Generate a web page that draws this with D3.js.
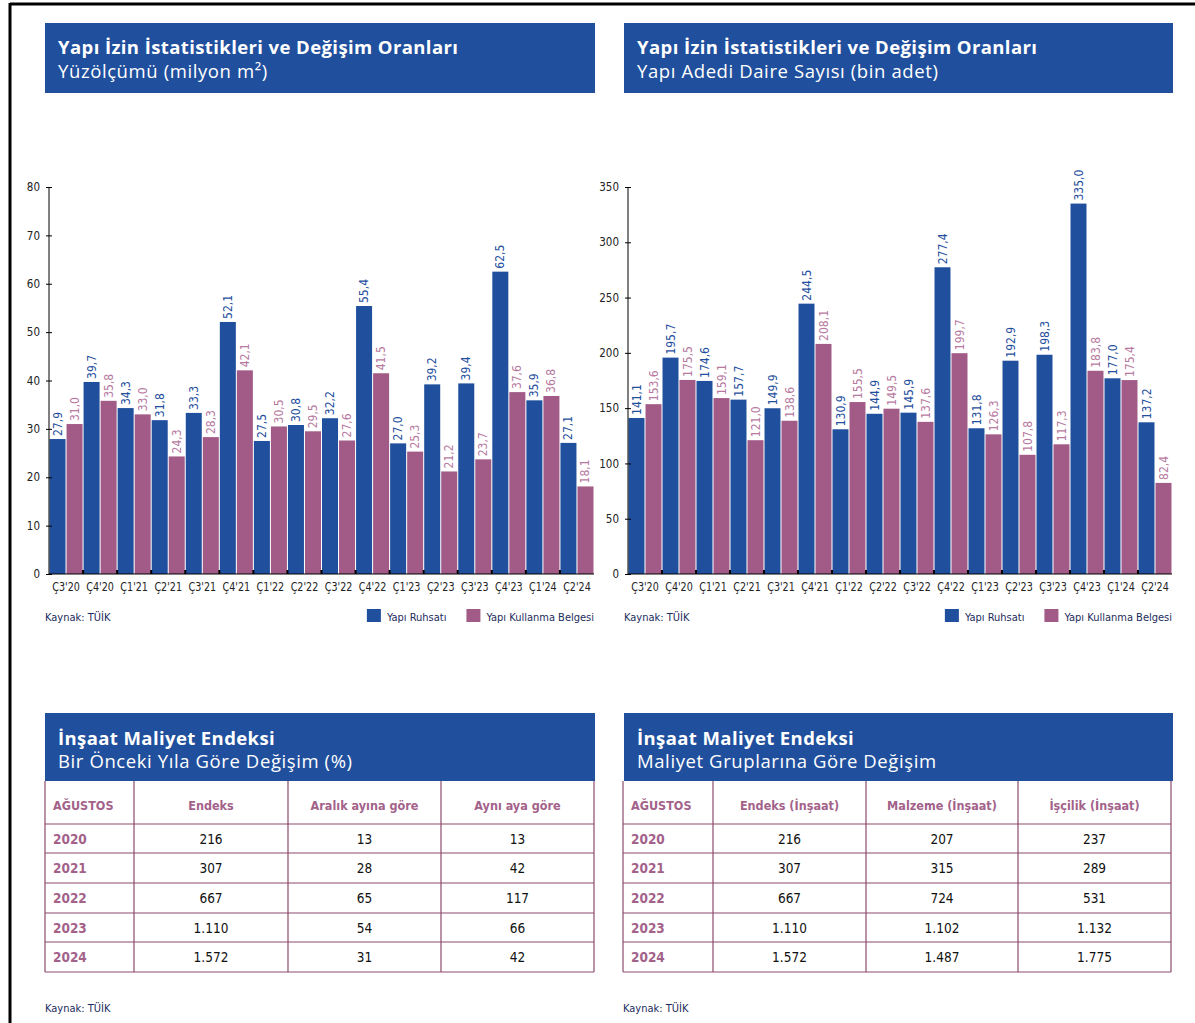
<!DOCTYPE html>
<html>
<head>
<meta charset="utf-8">
<script src="https://cdn.jsdelivr.net/npm/d3@7"></script>
<style>
  body { margin: 0; background: #fff; }
  svg { display: block; }
</style>
</head>
<body>
<svg id="page" width="1195" height="1023"></svg>
<script>
// quarters
var quarters = ["Ç3'20", "Ç4'20", "Ç1'21", "Ç2'21", "Ç3'21", "Ç4'21", "Ç1'22", "Ç2'22",
  "Ç3'22", "Ç4'22", "Ç1'23", "Ç2'23", "Ç3'23", "Ç4'23", "Ç1'24", "Ç2'24"];
var seriesNames = ["Yapı Ruhsatı", "Yapı Kullanma Belgesi"];

// Yüzölçümü (milyon m2)
var areaRuhsat = [27.9, 39.7, 34.3, 31.8, 33.3, 52.1, 27.5, 30.8, 32.2, 55.4, 27.0, 39.2, 39.4, 62.5, 35.9, 27.1];
var areaKullanma = [31.0, 35.8, 33.0, 24.3, 28.3, 42.1, 30.5, 29.5, 27.6, 41.5, 25.3, 21.2, 23.7, 37.6, 36.8, 18.1];
var areaTicks = [0, 10, 20, 30, 40, 50, 60, 70, 80];

// Daire sayısı (bin adet)
var flatRuhsat = [141.1, 195.7, 174.6, 157.7, 149.9, 244.5, 130.9, 144.9, 145.9, 277.4, 131.8, 192.9, 198.3, 335.0, 177.0, 137.2];
var flatKullanma = [153.6, 175.5, 159.1, 121.0, 138.6, 208.1, 155.5, 149.5, 137.6, 199.7, 126.3, 107.8, 117.3, 183.8, 175.4, 82.4];
var flatTicks = [0, 50, 100, 150, 200, 250, 300, 350];

// tables
var tableYears = ["2020", "2021", "2022", "2023", "2024"];
var changeCols = ["AĞUSTOS", "Endeks", "Aralık ayına göre", "Aynı aya göre"];
var changeEndeks = ["216", "307", "667", "1.110", "1.572"];
var changeAralik = ["13", "28", "65", "54", "31"];
var changeAyni = ["13", "42", "117", "66", "42"];
var groupCols = ["AĞUSTOS", "Endeks (İnşaat)", "Malzeme (İnşaat)", "İşçilik (İnşaat)"];
var groupEndeks = ["216", "307", "667", "1.110", "1.572"];
var groupMalzeme = ["207", "315", "724", "1.102", "1.487"];
var groupIscilik = ["237", "289", "531", "1.132", "1.775"];

var BLUE = "#1f4f9d", PINK = "#a25b87", PINK_TXT = "#b77a9f", MAUVE = "#8c4a6c", NAVY = "#1c2c5c";
var narrow = "'Liberation Sans Narrow', 'DejaVu Sans Condensed', sans-serif";
var headFont = "'Open Sans', 'Noto Sans', sans-serif";

var svg = d3.select("#page");

// page frame (top + left)
svg.append("line").attr("x1", 10).attr("x2", 1195).attr("y1", 4).attr("y2", 4).attr("stroke", "#000").attr("stroke-width", 3);
svg.append("line").attr("x1", 10).attr("x2", 10).attr("y1", 3).attr("y2", 1023).attr("stroke", "#000").attr("stroke-width", 3);

function header(x, y, w, h, title, sub, tY, sY) {
  var g = svg.append("g").attr("transform", "translate(" + x + "," + y + ")");
  g.append("rect").attr("width", w).attr("height", h).attr("fill", BLUE);
  g.append("text").attr("x", 13).attr("y", tY).attr("fill", "#fff")
    .attr("font-family", headFont).attr("font-weight", 700).attr("font-size", 18.5)
    .attr("letter-spacing", 0.4).text(title);
  g.append("text").attr("x", 13).attr("y", sY).attr("fill", "#fff")
    .attr("font-family", headFont).attr("font-size", 18.5)
    .attr("letter-spacing", 0.6).text(sub);
}

function fmt(v) { return v.toFixed(1).replace(".", ","); }

function barChart(opt) {
  var x = d3.scaleBand().domain(quarters).range([opt.x0, opt.x1]).padding(0);
  var inner = d3.scaleBand().domain([0, 1]).range([0, x.bandwidth()]).paddingInner(0.06).paddingOuter(0.03);
  var y = d3.scaleLinear().domain([0, opt.max]).range([opt.yBottom, opt.yTop]);
  var g = svg.append("g");

  var rows = quarters.map(function (q, i) {
    return { q: q, vals: [opt.a[i], opt.b[i]] };
  });
  var grp = g.selectAll(".grp").data(rows).enter().append("g")
    .attr("transform", function (d) { return "translate(" + x(d.q) + ",0)"; });
  grp.selectAll("rect").data(function (d) { return d.vals; }).enter().append("rect")
    .attr("x", function (d, i) { return inner(i); })
    .attr("width", inner.bandwidth())
    .attr("y", function (d) { return y(d); })
    .attr("height", function (d) { return y(0) - y(d); })
    .attr("fill", function (d, i) { return i === 0 ? BLUE : PINK; });
  grp.selectAll("text").data(function (d) { return d.vals; }).enter().append("text")
    .attr("transform", function (d, i) {
      return "translate(" + (inner(i) + inner.bandwidth() / 2 + 4) + "," + (y(d) - 3) + ") rotate(-90)";
    })
    .attr("font-family", narrow).attr("font-size", 12)
    .attr("fill", function (d, i) { return i === 0 ? BLUE : PINK_TXT; })
    .text(fmt);

  // y axis
  var ya = g.append("g").attr("transform", "translate(" + opt.x0 + ",0)")
    .call(d3.axisLeft(y).tickValues(opt.ticks).tickSize(4).tickPadding(5));
  ya.selectAll(".tick line").attr("x2", 3).attr("x1", -3);
  ya.select(".domain").attr("d", "M0," + opt.yTop + "V" + opt.yBottom);
  ya.selectAll("text").attr("font-family", narrow).attr("font-size", 11.5).attr("fill", "#222");

  // x axis (labels squeezed horizontally like the condensed face of the original)
  var xa = g.append("g").attr("transform", "translate(0," + opt.yBottom + ")")
    .call(d3.axisBottom(x).tickSize(0).tickPadding(8));
  xa.select(".domain").attr("d", "M" + opt.x0 + ",0H" + opt.x1).attr("stroke", "#000");
  xa.selectAll("text").attr("font-family", narrow).attr("font-size", 13)
    .attr("transform", "scale(0.82,1)").attr("fill", "#222");
  g.selectAll(".sep").data(quarters.slice(1)).enter().append("line")
    .attr("x1", function (d) { return x(d); }).attr("x2", function (d) { return x(d); })
    .attr("y1", opt.yBottom - 4).attr("y2", opt.yBottom)
    .attr("stroke", "#000").attr("stroke-width", 2);

  // source + legend (right aligned to the axis end)
  g.append("text").attr("x", opt.srcX).attr("y", 621).attr("font-family", narrow)
    .attr("font-size", 11).attr("fill", NAVY).text("Kaynak: TÜİK");
  var lg = g.append("g").attr("transform", "translate(0,609)");
  var t2 = lg.append("text").attr("x", opt.x1).attr("y", 12).attr("text-anchor", "end")
    .attr("font-family", narrow).attr("font-size", 11).attr("fill", NAVY).text(seriesNames[1]);
  var x2 = opt.x1 - t2.node().getComputedTextLength();
  lg.append("rect").attr("x", x2 - 20).attr("width", 14).attr("height", 13).attr("fill", PINK);
  var t1 = lg.append("text").attr("x", x2 - 40).attr("y", 12).attr("text-anchor", "end")
    .attr("font-family", narrow).attr("font-size", 11).attr("fill", NAVY).text(seriesNames[0]);
  var x1 = x2 - 40 - t1.node().getComputedTextLength();
  lg.append("rect").attr("x", x1 - 20).attr("width", 14).attr("height", 13).attr("fill", BLUE);
}

function table(opt) {
  var g = svg.append("g");
  var cols = opt.colX;
  var rowY = [781, 824, 853, 883, 913, 942, 972];
  var data = tableYears.map(function (yr, i) {
    return [yr].concat(opt.values.map(function (v) { return v[i]; }));
  });
  // grid
  g.selectAll(".h").data(rowY.slice(1)).enter().append("line")
    .attr("x1", cols[0]).attr("x2", cols[4]).attr("y1", function (d) { return d; }).attr("y2", function (d) { return d; })
    .attr("stroke", MAUVE).attr("stroke-width", 1.2);
  g.selectAll(".v").data(cols).enter().append("line")
    .attr("x1", function (d) { return d; }).attr("x2", function (d) { return d; })
    .attr("y1", rowY[0]).attr("y2", rowY[6])
    .attr("stroke", MAUVE).attr("stroke-width", 1.2);
  // head row
  g.selectAll(".hd").data(opt.heads).enter().append("text")
    .attr("x", function (d, i) { return i === 0 ? cols[0] + 8 : (cols[i] + cols[i + 1]) / 2; })
    .attr("y", 810)
    .attr("text-anchor", function (d, i) { return i === 0 ? "start" : "middle"; })
    .attr("font-family", narrow).attr("font-weight", 700).attr("font-size", 12.5)
    .attr("fill", "#a3628a").text(function (d) { return d; });
  // body
  var r = g.selectAll(".row").data(data).enter().append("g")
    .attr("transform", function (d, i) { return "translate(0," + (rowY[i + 1] + rowY[i + 2]) / 2 + ")"; });
  r.selectAll("text").data(function (d) { return d; }).enter().append("text")
    .attr("x", function (d, i) { return i === 0 ? cols[0] + 8 : (cols[i] + cols[i + 1]) / 2; })
    .attr("y", 5)
    .attr("text-anchor", function (d, i) { return i === 0 ? "start" : "middle"; })
    .attr("font-family", narrow).attr("font-size", 13.5)
    .attr("font-weight", function (d, i) { return i === 0 ? 700 : 400; })
    .attr("fill", function (d, i) { return i === 0 ? "#a3628a" : "#111"; })
    .text(function (d) { return d; });
  g.append("text").attr("x", cols[0]).attr("y", 1012).attr("font-family", narrow)
    .attr("font-size", 11).attr("fill", NAVY).text("Kaynak: TÜİK");
}

header(45, 23, 550, 70, "Yapı İzin İstatistikleri ve Değişim Oranları", "Yüzölçümü (milyon m²)", 31, 55);
header(624, 23, 549, 70, "Yapı İzin İstatistikleri ve Değişim Oranları", "Yapı Adedi Daire Sayısı (bin adet)", 31, 55);
header(45, 713, 550, 68, "İnşaat Maliyet Endeksi", "Bir Önceki Yıla Göre Değişim (%)", 32, 55);
header(624, 713, 549, 68, "İnşaat Maliyet Endeksi", "Maliyet Gruplarına Göre Değişim", 32, 55);

barChart({ x0: 49, x1: 594, yTop: 187, yBottom: 574, max: 80, ticks: areaTicks,
  a: areaRuhsat, b: areaKullanma, srcX: 45 });
barChart({ x0: 628, x1: 1172, yTop: 187, yBottom: 574, max: 350, ticks: flatTicks,
  a: flatRuhsat, b: flatKullanma, srcX: 624 });

table({ colX: [45, 134, 288, 441, 594], heads: changeCols, values: [changeEndeks, changeAralik, changeAyni] });
table({ colX: [623, 713, 866, 1018, 1171], heads: groupCols, values: [groupEndeks, groupMalzeme, groupIscilik] });
</script>
</body>
</html>
